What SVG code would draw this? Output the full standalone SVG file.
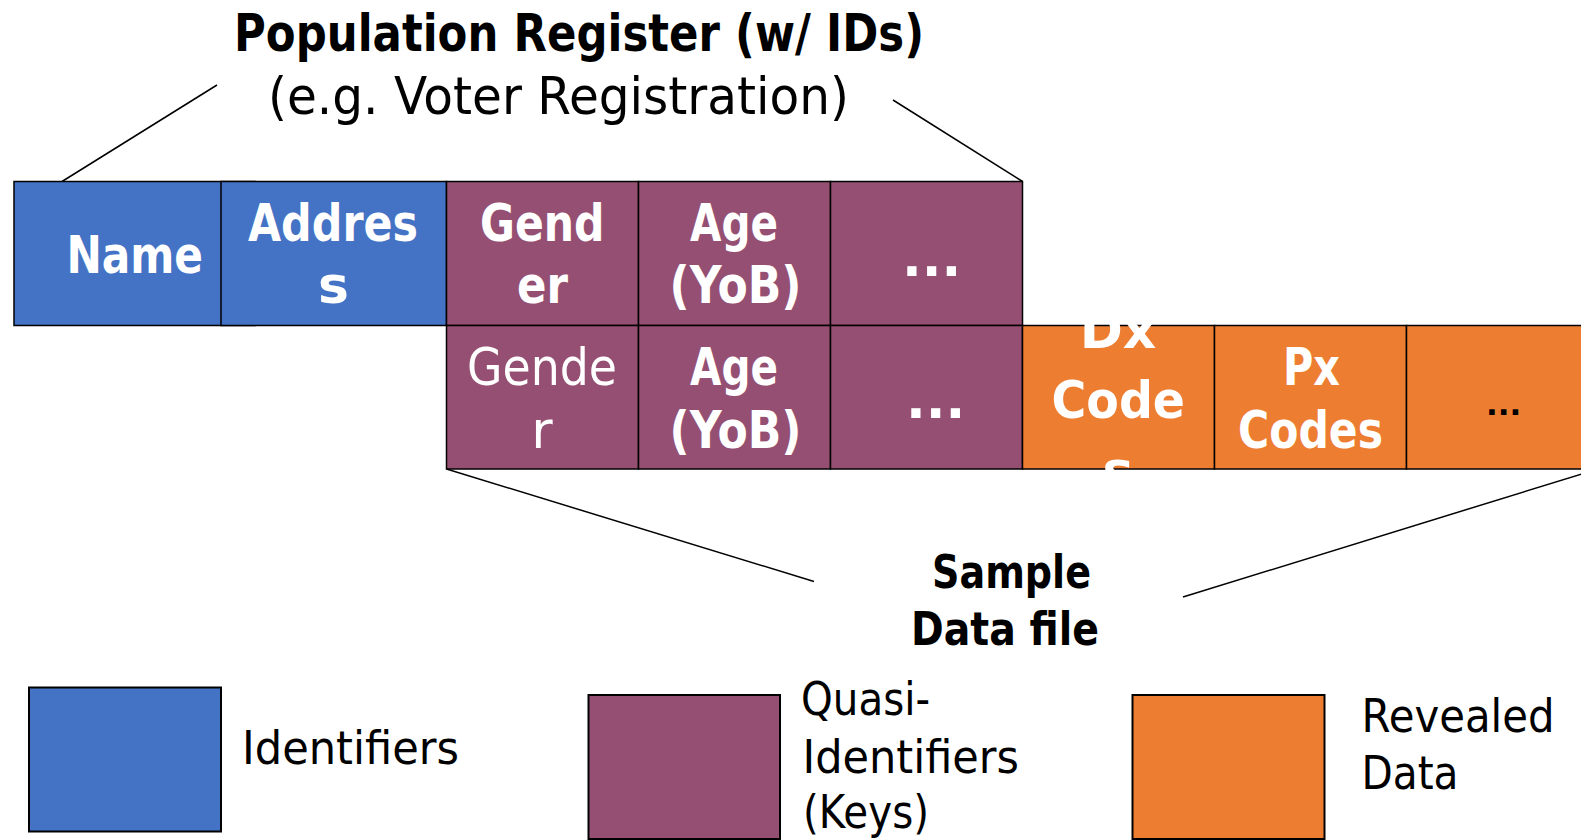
<svg xmlns="http://www.w3.org/2000/svg" width="1581" height="840" viewBox="0 0 1581 840">
  <style>
    text { font-family: "DejaVu Sans", "Liberation Sans", sans-serif; }
    .cell { stroke: #000; stroke-width: 1.5; }
    .key { stroke: #000; stroke-width: 2; }
    .id { fill: #4472C4; }
    .qi { fill: #954F72; }
    .rv { fill: #ED7D31; }
    .lbl { fill: #fff; font-size: 52px; font-weight: bold; }
    .lblr { fill: #fff; font-size: 52px; font-weight: normal; }
    .head { fill: #000; font-size: 51px; }
    .cap { fill: #000; font-size: 47px; }
    .conn { stroke: #000; stroke-width: 1.5; fill: none; }
  </style>

  <rect width="1581" height="840" fill="#fff"/>

  <!-- heading over the register -->
  <g id="register-title">
    <text class="head" x="234" y="50.5" font-weight="bold" textLength="690" lengthAdjust="spacingAndGlyphs">Population Register (w/ IDs)</text>
    <text class="head" x="268" y="114" textLength="581" lengthAdjust="spacingAndGlyphs">(e.g. Voter Registration)</text>
  </g>

  <!-- bracket lines -->
  <g id="connectors">
    <line class="conn" x1="217" y1="85" x2="62" y2="181.5"/>
    <line class="conn" x1="893" y1="100" x2="1022.5" y2="181.5"/>
    <line class="conn" x1="446.5" y1="469" x2="814" y2="581.5"/>
    <line class="conn" x1="1598" y1="469" x2="1183" y2="597"/>
  </g>

  <!-- register row -->
  <g id="reg-name">
    <rect class="cell id" x="14" y="181.5" width="241" height="144"/>
    <text class="lbl" x="66.5" y="273" textLength="136.5" lengthAdjust="spacingAndGlyphs">Name</text>
  </g>
  <g id="reg-address">
    <rect class="cell id" x="221" y="181.5" width="225.5" height="144"/>
    <text class="lbl" x="248" y="241" textLength="170" lengthAdjust="spacingAndGlyphs">Addres</text>
    <text class="lbl" x="333.5" y="303" text-anchor="middle">s</text>
  </g>
  <g id="reg-gender">
    <rect class="cell qi" x="446.5" y="181.5" width="192" height="144"/>
    <text class="lbl" x="480" y="241" textLength="124.6" lengthAdjust="spacingAndGlyphs">Gend</text>
    <text class="lbl" x="517" y="303" textLength="51" lengthAdjust="spacingAndGlyphs">er</text>
  </g>
  <g id="reg-age">
    <rect class="cell qi" x="638.5" y="181.5" width="192" height="144"/>
    <text class="lbl" x="690" y="241" textLength="88" lengthAdjust="spacingAndGlyphs">Age</text>
    <text class="lbl" x="669.5" y="303" textLength="132" lengthAdjust="spacingAndGlyphs">(YoB)</text>
  </g>
  <g id="reg-more">
    <rect class="cell qi" x="830.5" y="181.5" width="192" height="144"/>
    <text class="lbl" x="902" y="276">...</text>
  </g>

  <!-- sample data file row -->
  <g id="smp-gender">
    <rect class="cell qi" x="446.5" y="325.5" width="192" height="143.5"/>
    <text class="lblr" x="467" y="385" textLength="150" lengthAdjust="spacingAndGlyphs">Gende</text>
    <text class="lblr" x="542" y="448" text-anchor="middle">r</text>
  </g>
  <g id="smp-age">
    <rect class="cell qi" x="638.5" y="325.5" width="192" height="143.5"/>
    <text class="lbl" x="690" y="385" textLength="88" lengthAdjust="spacingAndGlyphs">Age</text>
    <text class="lbl" x="669.5" y="448" textLength="132" lengthAdjust="spacingAndGlyphs">(YoB)</text>
  </g>
  <g id="smp-more">
    <rect class="cell qi" x="830.5" y="325.5" width="192" height="143.5"/>
    <text class="lbl" x="906" y="418" font-size="40">...</text>
  </g>
  <g id="smp-dx">
    <rect class="cell rv" x="1022.5" y="325.5" width="192" height="143.5"/>
  </g>
  <g id="smp-px">
    <rect class="cell rv" x="1214.5" y="325.5" width="192" height="143.5"/>
    <text class="lbl" x="1283" y="385" textLength="57" lengthAdjust="spacingAndGlyphs">Px</text>
    <text class="lbl" x="1238" y="448" textLength="145" lengthAdjust="spacingAndGlyphs">Codes</text>
  </g>
  <g id="smp-rest">
    <rect class="cell rv" x="1406.5" y="325.5" width="192" height="143.5"/>
    <text x="1486" y="415" font-size="31" font-weight="bold" fill="#000">...</text>
  </g>
  <!-- Dx label overflows its cell, drawn above the borders -->
  <g id="smp-dx-label">
    <text class="lbl" x="1118" y="348" font-size="57" text-anchor="middle">Dx</text>
    <text class="lbl" x="1051.5" y="418" font-size="57" textLength="133.5" lengthAdjust="spacingAndGlyphs">Code</text>
    <text class="lbl" x="1118" y="488" font-size="57" text-anchor="middle">s</text>
  </g>

  <g id="sample-title">
    <text class="cap" x="932" y="588" font-weight="bold" textLength="159" lengthAdjust="spacingAndGlyphs">Sample</text>
    <text class="cap" x="911" y="645" font-weight="bold" textLength="188" lengthAdjust="spacingAndGlyphs">Data file</text>
  </g>

  <!-- legend -->
  <g id="key-identifiers">
    <rect class="key id" x="29" y="687.5" width="192" height="144"/>
    <text class="cap" x="242" y="764" textLength="217" lengthAdjust="spacingAndGlyphs">Identifiers</text>
  </g>
  <g id="key-quasi">
    <rect class="key qi" x="588.5" y="695" width="191.5" height="144"/>
    <text class="cap" x="801" y="715" textLength="129" lengthAdjust="spacingAndGlyphs">Quasi-</text>
    <text class="cap" x="802.5" y="773" textLength="216.5" lengthAdjust="spacingAndGlyphs">Identifiers</text>
    <text class="cap" x="803" y="828" textLength="126" lengthAdjust="spacingAndGlyphs">(Keys)</text>
  </g>
  <g id="key-revealed">
    <rect class="key rv" x="1132.5" y="695" width="192" height="144"/>
    <text class="cap" x="1361.5" y="731.5" textLength="193" lengthAdjust="spacingAndGlyphs">Revealed</text>
    <text class="cap" x="1361.5" y="789" textLength="97" lengthAdjust="spacingAndGlyphs">Data</text>
  </g>
</svg>
